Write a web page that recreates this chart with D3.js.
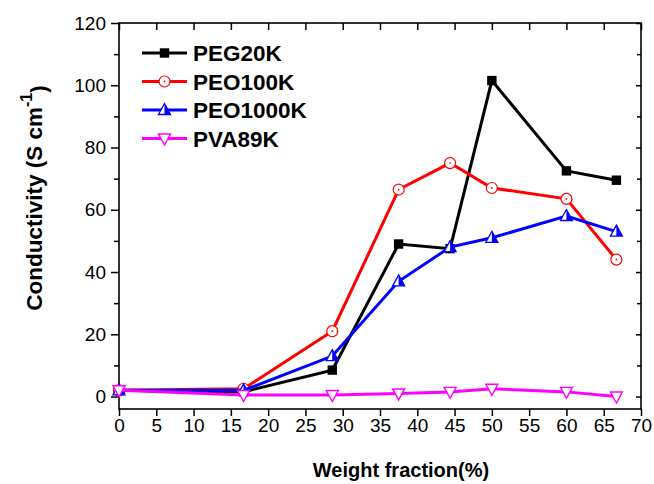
<!DOCTYPE html>
<html>
<head>
<meta charset="utf-8">
<script src="https://cdn.jsdelivr.net/npm/d3@7"></script>
<style>
  body { margin: 0; background: #fff; }
  text { font-family: "Liberation Sans", Arial, sans-serif; }
</style>
</head>
<body>
<div id="chart"></div>
<script>
// weight fraction (%) shared by all series
const fractions = [0, 16.7, 28.6, 37.5, 44.4, 50, 60, 66.7];
const peg20k = [2, 1.5, 8.5, 49, 47.5, 101.5, 72.5, 69.5];
const peo100k = [2, 2.5, 21, 66.5, 75, 67, 63.5, 44];
const peo1000k = [2, 2, 13, 37, 48, 51, 58, 53];
const pva89k = [2, 0.5, 0.5, 1, 1.5, 2.5, 1.5, 0];
const seriesNames = ["PEG20K", "PEO100K", "PEO1000K", "PVA89K"];
const xTicks = d3.range(0, 71, 5);
const yTicks = [0, 20, 40, 60, 80, 100, 120];

const width = 654, height = 484;
const margin = { top: 23, right: 13, bottom: 75, left: 119 };

const svg = d3.select("#chart").append("svg")
    .attr("width", width)
    .attr("height", height);

const x = d3.scaleLinear().domain([0, 70]).range([margin.left, width - margin.right]);
const y = d3.scaleLinear().domain([-4, 120]).range([height - margin.bottom, margin.top]);

const series = [
    { name: seriesNames[0], values: peg20k, color: "#000000", marker: "square" },
    { name: seriesNames[1], values: peo100k, color: "#ff0000", marker: "circle" },
    { name: seriesNames[2], values: peo1000k, color: "#0000ff", marker: "triangle" },
    { name: seriesNames[3], values: pva89k, color: "#ff00ff", marker: "down" }
];

// axes: left/bottom outward, right/top inward
const axisG = svg.append("g");
axisG.append("g")
    .attr("transform", `translate(${margin.left},0)`)
    .call(d3.axisLeft(y).tickValues(yTicks).tickSize(8).tickSizeOuter(0).tickPadding(5))
    .call(g => g.selectAll("text").style("font-size", "19px").attr("fill", "#000"));
axisG.append("g")
    .attr("transform", `translate(${margin.left},0)`)
    .call(d3.axisLeft(y).tickValues(d3.range(10, 120, 20)).tickSize(5).tickSizeOuter(0).tickFormat(""));
axisG.append("g")
    .attr("transform", `translate(0,${height - margin.bottom})`)
    .call(d3.axisBottom(x).tickValues(xTicks).tickSize(7).tickSizeOuter(0).tickPadding(3))
    .call(g => g.selectAll("text").style("font-size", "19px").attr("fill", "#000"));
axisG.append("g")
    .attr("transform", `translate(${width - margin.right},0)`)
    .call(d3.axisLeft(y).tickValues(yTicks).tickSize(5).tickSizeOuter(0).tickFormat(""));
axisG.append("g")
    .attr("transform", `translate(${width - margin.right},0)`)
    .call(d3.axisLeft(y).tickValues(d3.range(10, 120, 20)).tickSize(4).tickSizeOuter(0).tickFormat(""));
axisG.append("g")
    .attr("transform", `translate(0,${margin.top})`)
    .call(d3.axisBottom(x).tickValues(xTicks).tickSize(7).tickSizeOuter(0).tickFormat(""));
axisG.selectAll(".domain").remove();
axisG.selectAll("line").attr("stroke", "#000").attr("stroke-width", 1.5);

svg.append("rect")
    .attr("x", margin.left).attr("y", margin.top)
    .attr("width", width - margin.left - margin.right)
    .attr("height", height - margin.top - margin.bottom)
    .attr("fill", "none").attr("stroke", "#000").attr("stroke-width", 1.6);

function drawMarker(g, type, color) {
    if (type === "square") {
        g.append("rect").attr("x", -4.7).attr("y", -4.7).attr("width", 9.4).attr("height", 9.4)
            .attr("fill", color);
    } else if (type === "circle") {
        g.append("circle").attr("r", 5.5).attr("fill", "#fff").attr("stroke", color).attr("stroke-width", 1.2);
        g.append("circle").attr("r", 0.9).attr("fill", color);
    } else if (type === "triangle") {
        g.append("path").attr("d", "M0,-6.5L6,4.5L-6,4.5Z").attr("fill", "#fff")
            .attr("stroke", color).attr("stroke-width", 1.3);
        g.append("path").attr("d", "M0,-6.5L6,4.5L0,4.5Z").attr("fill", color);
    } else {
        g.append("path").attr("d", "M-6,-4.5L6,-4.5L0,6.5Z").attr("fill", "#fff")
            .attr("stroke", color).attr("stroke-width", 1.4);
    }
}

const line = d3.line().x(d => x(d[0])).y(d => y(d[1]));

series.forEach(s => {
    const pts = fractions.map((f, i) => [f, s.values[i]]);
    const g = svg.append("g");
    g.append("path").datum(pts).attr("d", line)
        .attr("fill", "none").attr("stroke", s.color).attr("stroke-width", 3);
    pts.forEach(p => {
        drawMarker(g.append("g").attr("transform", `translate(${x(p[0])},${y(p[1])})`), s.marker, s.color);
    });
});

// legend
const legend = svg.append("g");
series.forEach((s, i) => {
    const ly = 53 + i * 28.5;
    legend.append("line").attr("x1", 142).attr("x2", 187).attr("y1", ly).attr("y2", ly)
        .attr("stroke", s.color).attr("stroke-width", 3);
    drawMarker(legend.append("g").attr("transform", `translate(164.5,${ly})`), s.marker, s.color);
    legend.append("text").attr("x", 193).attr("y", ly).attr("dy", "0.36em")
        .style("font-size", "22.5px").style("font-weight", "bold").text(s.name);
});

// axis titles
svg.append("text")
    .attr("x", 401).attr("y", 477)
    .attr("text-anchor", "middle")
    .style("font-size", "20px").style("font-weight", "bold")
    .text("Weight fraction(%)");

const yTitle = svg.append("text")
    .attr("transform", "translate(42,198) rotate(-90)")
    .attr("text-anchor", "middle")
    .style("font-size", "22.5px").style("font-weight", "bold");
yTitle.append("tspan").text("Conductivity (S cm");
yTitle.append("tspan").attr("dy", "-0.6em").style("font-size", "16px").text("-1");
yTitle.append("tspan").attr("dy", "0.6em").text(")");
</script>
</body>
</html>
